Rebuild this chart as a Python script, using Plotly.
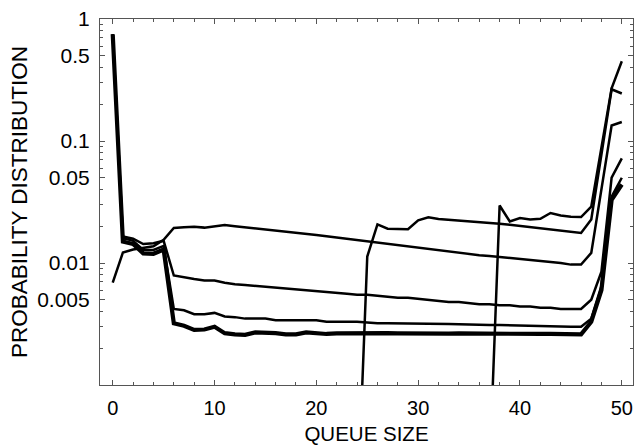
import plotly.graph_objects as go

queue = list(range(51))

# Series (probability per queue size)
series_a = [0.75, 0.0150, 0.0143, 0.0120, 0.0119, 0.0129, 0.0032, 0.00306, 0.00283, 0.00285, 0.0030,
            0.00266, 0.0026, 0.00258, 0.0027, 0.0027, 0.00266, 0.0026, 0.0026, 0.0027, 0.00265,
            0.00262, 0.00265, 0.00266, 0.00265, 0.00264, 0.00265, 0.00266, 0.00265, 0.00264, 0.00264,
            0.00265, 0.00264, 0.00264, 0.00265, 0.00264, 0.00263, 0.00263, 0.00264, 0.00263, 0.00263,
            0.00262, 0.00262, 0.00262, 0.00261, 0.00261, 0.0026, 0.0033, 0.006, 0.033, 0.044]
series_b = [0.75, 0.0160, 0.0152, 0.0128, 0.0128, 0.0138, 0.0042, 0.0041, 0.0038, 0.0038, 0.0039,
            0.00364, 0.0036, 0.0035, 0.0035, 0.0035, 0.0034, 0.0034, 0.0034, 0.0034, 0.0034,
            0.0033, 0.0033, 0.0033, 0.0033, 0.00325, 0.0032, 0.0032, 0.0032, 0.0032, 0.0032,
            0.00318, 0.00317, 0.00316, 0.00315, 0.00312, 0.0031, 0.0031, 0.0031, 0.00308, 0.00306,
            0.00305, 0.00304, 0.00302, 0.00301, 0.003, 0.003, 0.0035, 0.0065, 0.035, 0.050]
series_c = [0.75, 0.0165, 0.0158, 0.0143, 0.0145, 0.0152, 0.0079, 0.0077, 0.0074, 0.0072, 0.0072,
            0.0069, 0.0067, 0.0066, 0.0065, 0.0064, 0.0063, 0.0062, 0.0061, 0.0060, 0.0059,
            0.0058, 0.0057, 0.0056, 0.0055, 0.0055, 0.0054, 0.0053, 0.0052, 0.0052, 0.0051,
            0.0050, 0.0049, 0.0048, 0.0048, 0.0047, 0.0046, 0.0046, 0.0045, 0.0045, 0.0044,
            0.0044, 0.0043, 0.0043, 0.0042, 0.0042, 0.0042, 0.0050, 0.0085, 0.050, 0.072]
series_d = [0.0069, 0.0122, 0.0129, 0.0132, 0.0137, 0.0155, 0.0194, 0.0196, 0.0198, 0.0195, 0.0200,
            0.0205, 0.0200, 0.0196, 0.0192, 0.0189, 0.0186, 0.0183, 0.0178, 0.0174, 0.0170,
            0.0166, 0.0162, 0.0158, 0.0154, 0.0150, 0.0147, 0.0143, 0.0140, 0.0136, 0.0133,
            0.0130, 0.0127, 0.0125, 0.0122, 0.0119, 0.0116, 0.0114, 0.0112, 0.0110, 0.0108,
            0.0106, 0.0104, 0.0102, 0.0100, 0.0097, 0.0097, 0.0121, 0.040, 0.134, 0.143]
queue_e = list(range(24, 51))
series_e = [0.00008, 0.0113, 0.0207, 0.0191, 0.0190, 0.0189, 0.0224, 0.0237, 0.0229, 0.0226, 0.0224,
            0.0221, 0.0218, 0.0214, 0.0210, 0.0206, 0.0201, 0.0197, 0.0192, 0.0188, 0.0183,
            0.0178, 0.0176, 0.0227, 0.075, 0.265, 0.245]
queue_f = list(range(37, 51))
series_f = [0.00019, 0.0296, 0.0219, 0.0234, 0.0227, 0.0230, 0.0257, 0.0245, 0.0239, 0.0238,
            0.0290, 0.085, 0.27, 0.45]

y_labels = [1, 0.5, 0.1, 0.05, 0.01, 0.005]
y_label_text = ["1", "0.5", "0.1", "0.05", "0.01", "0.005"]
y_minor = [m * 10 ** e for e in (-3, -2, -1) for m in range(2, 10)]
y_minor = [v for v in y_minor if all(abs(v - t) > 1e-12 for t in y_labels)]

FONT = "Liberation Sans, Arial, sans-serif"

fig = go.Figure()
line_defs = [
    (queue, series_d, 2.5),
    (queue_e, series_e, 2.5),
    (queue_f, series_f, 2.5),
    (queue, series_c, 2.5),
    (queue, series_b, 2.5),
    (queue, series_a, 4.2),
]
for xs, ys, w in line_defs:
    fig.add_trace(go.Scatter(x=xs, y=ys, mode="lines",
                             line=dict(color="black", width=w),
                             showlegend=False, hoverinfo="skip"))

axis_common = dict(showline=True, linecolor="#555555", linewidth=1.2, mirror="ticks",
                   ticks="inside", tickcolor="#555555", showgrid=False, zeroline=False)

fig.update_xaxes(range=[-1.25, 51.1], tickmode="array", tickvals=[0, 10, 20, 30, 40, 50],
                 ticklen=5, tickwidth=1.2, ticklabelstandoff=5,
                 tickfont=dict(family=FONT, size=20, color="black"),
                 minor=dict(tickmode="array", tickvals=[v for v in range(0, 51, 2) if v % 10],
                            ticks="inside", ticklen=3, tickcolor="#555555", tickwidth=1),
                 title=dict(text="QUEUE SIZE", font=dict(family=FONT, size=20.5, color="black"),
                            standoff=10),
                 **axis_common)
fig.update_yaxes(type="log", range=[-3, 0], tickmode="array", tickvals=y_labels,
                 ticktext=y_label_text, ticklen=5, tickwidth=1.2, ticklabelstandoff=5,
                 tickfont=dict(family=FONT, size=21, color="black"),
                 minor=dict(tickmode="array", tickvals=y_minor,
                            ticks="inside", ticklen=3, tickcolor="#555555", tickwidth=1),
                 title=dict(text="PROBABILITY DISTRIBUTION",
                            font=dict(family=FONT, size=22.5, color="black"), standoff=3),
                 **axis_common)

fig.update_layout(width=636, height=445, margin=dict(l=100, r=3, t=19, b=60),
                  plot_bgcolor="white", paper_bgcolor="white",
                  font=dict(family=FONT, size=21, color="black"))

fig.write_html("out.html")
